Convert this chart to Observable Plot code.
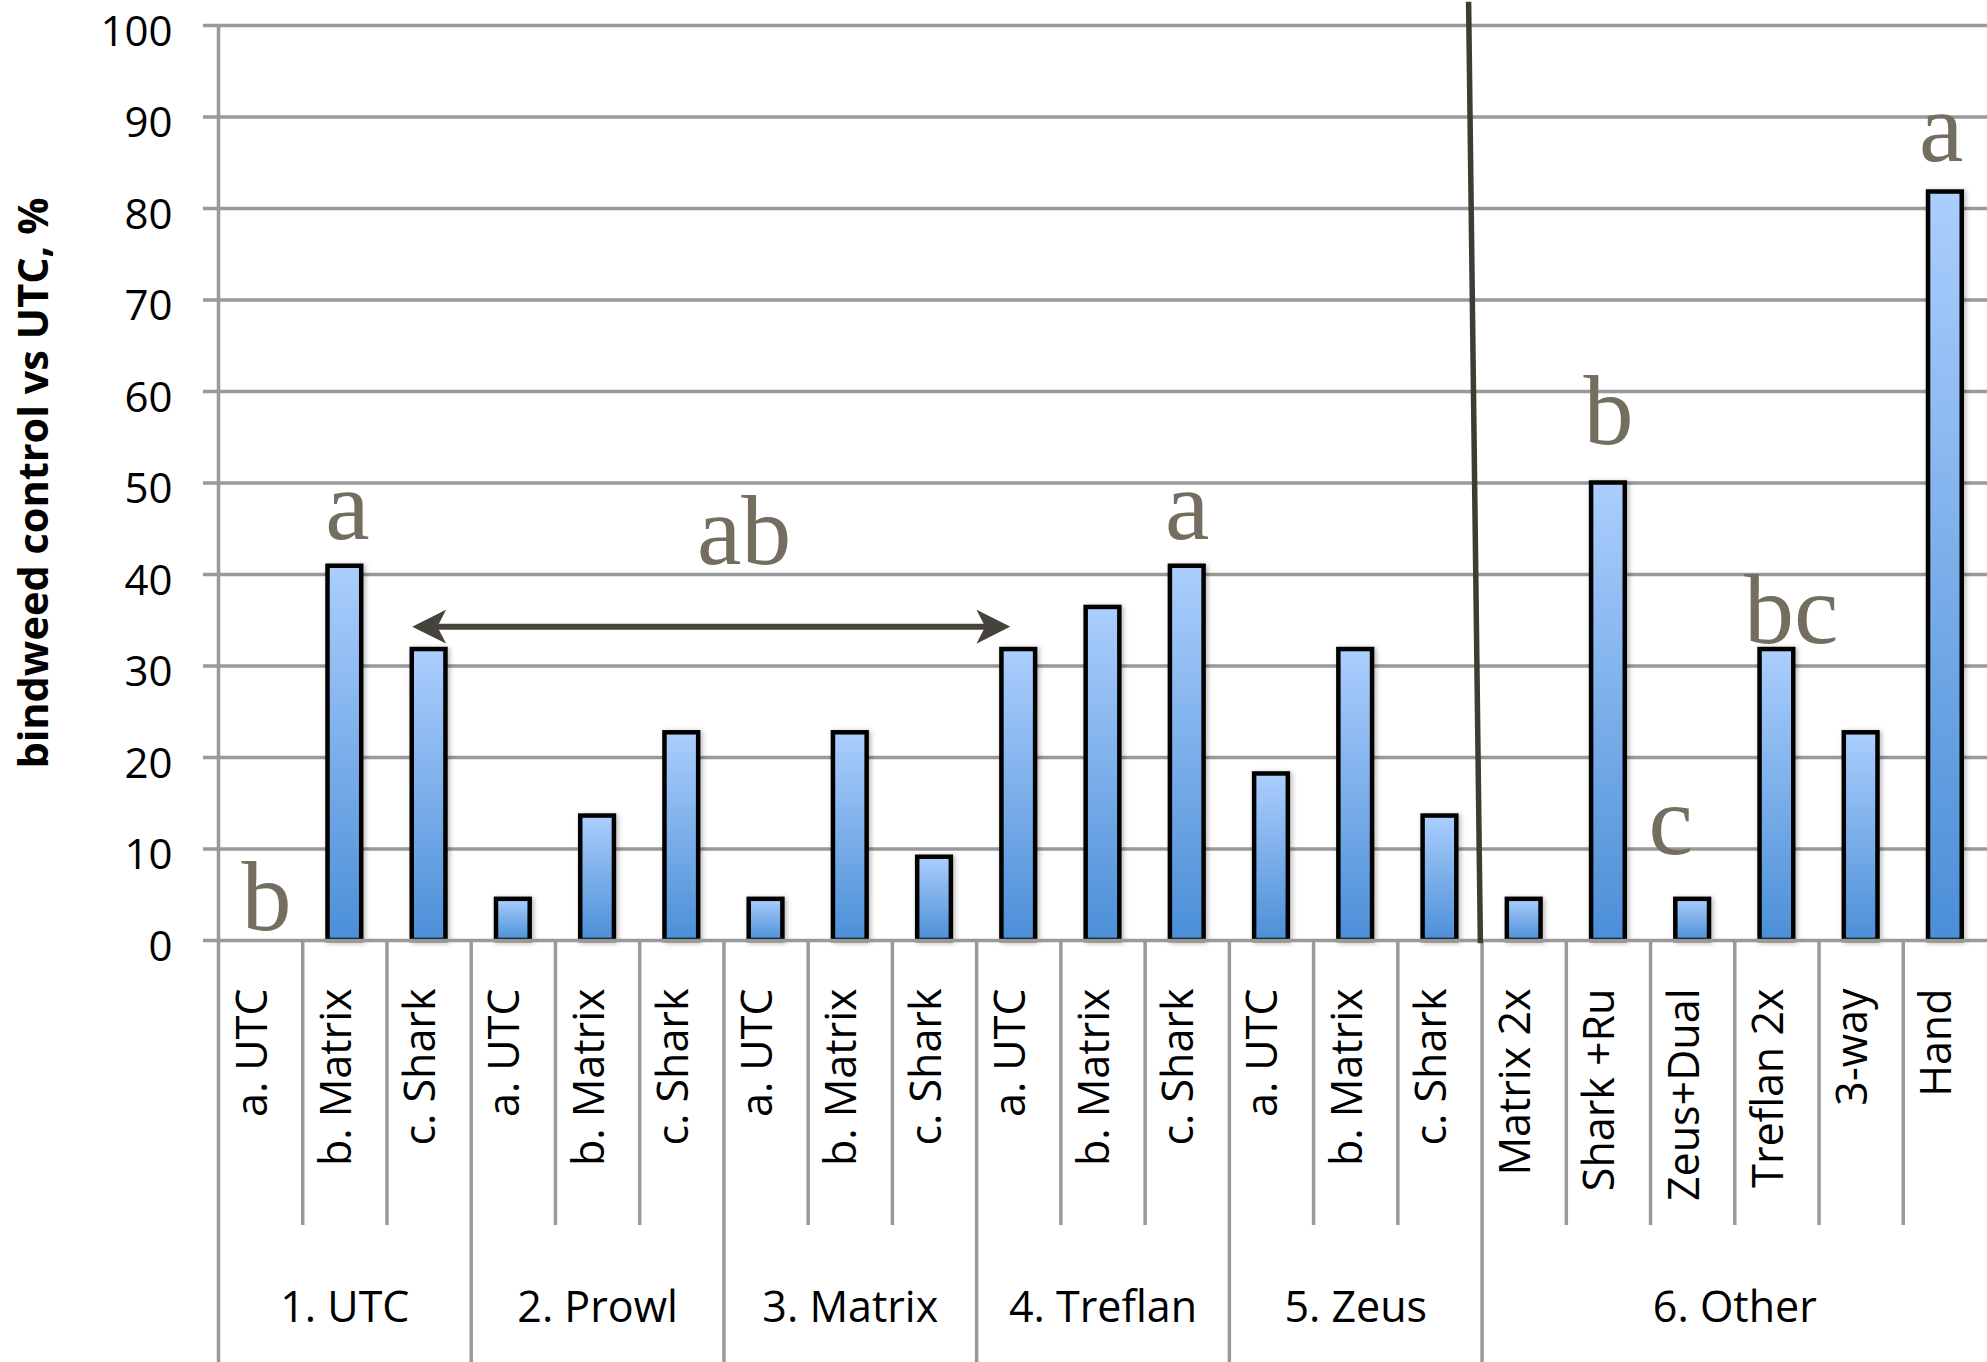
<!DOCTYPE html>
<html>
<head>
<meta charset="utf-8">
<script src="https://cdn.jsdelivr.net/npm/d3@7"></script>
<script src="https://cdn.jsdelivr.net/npm/@observablehq/plot@0.6"></script>
<style>
  html, body { margin: 0; padding: 0; background: #ffffff; }
  #chart svg { display: block; }
</style>
</head>
<body>
<div id="chart"></div>
<script>
// ---------- data ----------
const groups = ["1. UTC", "2. Prowl", "3. Matrix", "4. Treflan", "5. Zeus", "6. Other"];
const groupSizes = [3, 3, 3, 3, 3, 6];
const categories = [
  "a. UTC", "b. Matrix", "c. Shark",
  "a. UTC", "b. Matrix", "c. Shark",
  "a. UTC", "b. Matrix", "c. Shark",
  "a. UTC", "b. Matrix", "c. Shark",
  "a. UTC", "b. Matrix", "c. Shark",
  "Matrix 2x", "Shark +Ru", "Zeus+Dual", "Treflan 2x", "3-way", "Hand"
];
const values = [
  0, 40.9, 31.8,
  4.5, 13.6, 22.7,
  4.5, 22.7, 9.1,
  31.8, 36.4, 40.9,
  18.2, 31.8, 13.6,
  4.5, 50.0, 4.5, 31.8, 22.7, 81.8
];
const yTicks = [0, 10, 20, 30, 40, 50, 60, 70, 80, 90, 100];
const yTitle = "bindweed control vs UTC, %";
// significance letters: x in category-slot units, y in % units (baseline)
const letterLabels = ["b", "a", "ab", "a", "b", "c", "bc", "a"];
const letterX = [0.57, 1.53, 6.24, 11.5, 16.5, 17.24, 18.67, 20.45];
const letterY = [1.2, 43.9, 41.1, 43.9, 54.3, 9.5, 32.5, 85.2];
// double-headed arrow spanning the "ab" treatments
const arrowSpan = [{x1: 2.38, x2: 9.32, y: 34.3}];
// diagonal divider between single products and "Other"
const divider = [{x1: 14.84, y1: 102.6, x2: 14.98, y2: -0.3}];

// ---------- derived tables ----------
const groupOf = [];
groupSizes.forEach((n, g) => { for (let k = 0; k < n; k++) groupOf.push(groups[g]); });
const bars = categories.map((c, i) => ({i, cat: c, group: groupOf[i], value: values[i]}));
const groupTable = [];
let start = 0;
groupSizes.forEach((n, g) => { groupTable.push({name: groups[g], start, end: start + n}); start += n; });
const groupBounds = groupTable.map(d => d.start);
const innerBounds = d3.range(1, categories.length).filter(b => !groupBounds.includes(b));
const letters = letterLabels.map((l, k) => ({label: l, x: letterX[k], y: letterY[k]}));

// ---------- layout ----------
const W = 1987, H = 1362;
const mL = 218, mR = 0, mT = 25, mB = 422;
const frameH = H - mT - mB;
const gridColor = "#999999";
const gridWidth = 3.5;
const arrowColor = "#46433b";
const dividerColor = "#3f3c33";

function defsMark() {
  const ns = "http://www.w3.org/2000/svg";
  const defs = document.createElementNS(ns, "defs");
  defs.innerHTML = `
    <linearGradient id="barGrad" x1="0" y1="0" x2="0" y2="1">
      <stop offset="0" stop-color="#abcefd"/>
      <stop offset="1" stop-color="#4b8fd7"/>
    </linearGradient>
    <filter id="barShadow" x="-5%" y="-5%" width="110%" height="110%">
      <feDropShadow dx="2" dy="1" stdDeviation="2.5" flood-color="#000" flood-opacity="0.28"/>
    </filter>
    <marker id="ah" viewBox="0 0 10 10" refX="8" refY="5" markerWidth="34" markerHeight="34"
            markerUnits="userSpaceOnUse" orient="auto-start-reverse">
      <path d="M0,0L10,5L0,10L2.6,5Z" fill="${arrowColor}"/>
    </marker>`;
  return defs;
}

const chart = Plot.plot({
  width: W, height: H,
  marginLeft: mL, marginRight: mR, marginTop: mT, marginBottom: mB,
  x: {domain: [0, categories.length], axis: null},
  y: {domain: [0, 100], axis: null},
  style: {fontFamily: "'Open Sans', sans-serif", background: "#ffffff", color: "#000", overflow: "visible"},
  marks: [
    defsMark,
    Plot.ruleY(yTicks.filter(t => t > 0), {x1: 0, x2: categories.length, stroke: gridColor, strokeWidth: gridWidth, insetLeft: -15}),
    Plot.ruleX([0], {stroke: gridColor, strokeWidth: gridWidth, insetBottom: -mB}),
    Plot.ruleX(groupBounds.filter(b => b > 0), {stroke: gridColor, strokeWidth: gridWidth, insetTop: frameH, insetBottom: -mB}),
    Plot.ruleX(innerBounds, {stroke: gridColor, strokeWidth: gridWidth, insetTop: frameH, insetBottom: -285}),
    Plot.rect(bars.filter(d => d.value > 0), {
      x1: d => d.i + 0.3, x2: d => d.i + 0.7, y1: 0, y2: "value",
      fill: "url(#barGrad)", stroke: "#000", strokeWidth: 4.5
    }),
    Plot.ruleY([0], {x1: 0, x2: categories.length, stroke: gridColor, strokeWidth: gridWidth, insetLeft: -15}),
    Plot.text(yTicks, {y: d => d, text: d => String(d), frameAnchor: "left", textAnchor: "end", dx: -46, dy: 7, fontSize: 42, fill: "#000"}),
    Plot.text([yTitle], {text: d => d, frameAnchor: "left", textAnchor: "middle", rotate: -90, dx: -184, fontSize: 41.5, fontWeight: "bold", fill: "#000"}),
    Plot.text(bars, {x: d => d.i + 0.5, text: "cat", frameAnchor: "bottom", rotate: -90, textAnchor: "end", dx: 6, dy: 48, fontSize: 43, fill: "#000"}),
    Plot.text(groupTable, {x: d => (d.start + d.end) / 2, text: "name", frameAnchor: "bottom", dy: 381, fontSize: 43, fill: "#000"}),
    Plot.link(divider, {x1: "x1", y1: "y1", x2: "x2", y2: "y2", stroke: dividerColor, strokeWidth: 5.5}),
    Plot.link(arrowSpan, {x1: "x1", x2: "x2", y1: "y", y2: "y", stroke: arrowColor, strokeWidth: 6}),
    Plot.text(letters, {x: "x", y: "y", text: "label", lineAnchor: "bottom", fontFamily: "'Liberation Serif', serif", fontSize: 100, fill: "#736e60"})
  ]
});

chart.querySelectorAll('g[fill="url(#barGrad)"]').forEach(g => g.setAttribute("filter", "url(#barShadow)"));
chart.querySelectorAll(`g[stroke="${arrowColor}"] path`).forEach(p => {
  p.setAttribute("marker-start", "url(#ah)");
  p.setAttribute("marker-end", "url(#ah)");
});

document.getElementById("chart").appendChild(chart);
</script>
</body>
</html>
